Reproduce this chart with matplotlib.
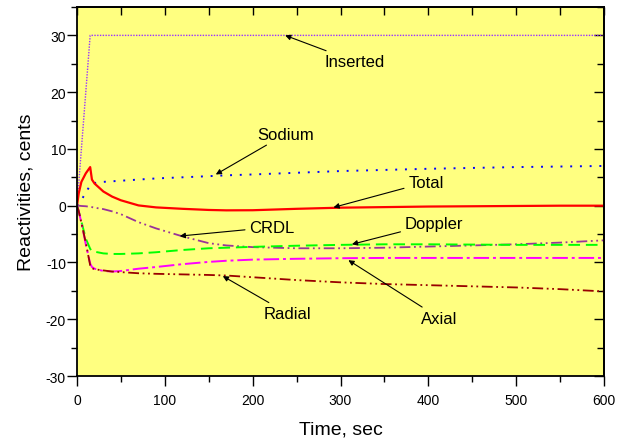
import matplotlib
matplotlib.use("Agg")
import matplotlib.pyplot as plt
from matplotlib.ticker import MultipleLocator

plt.rcParams['font.family'] = ['Liberation Sans', 'DejaVu Sans']
plt.rcParams['axes.unicode_minus'] = False

# time points, sec
t = [0, 2, 5, 10, 15, 17, 20, 30, 40, 50, 70, 90, 120, 150, 170, 200,
     250, 300, 350, 400, 450, 500, 550, 600]

total = [0, 2.2, 4.2, 5.7, 6.8, 4.6, 3.9, 2.5, 1.6, 0.95, 0.05, -0.3, -0.55,
         -0.75, -0.82, -0.8, -0.55, -0.35, -0.25, -0.15, -0.1, -0.05, 0.0, 0.0]
sodium = [0, 0.3, 1.0, 2.3, 3.6, 3.9, 4.0, 4.2, 4.3, 4.4, 4.6, 4.8, 5.0,
          5.2, 5.35, 5.5, 5.8, 6.1, 6.3, 6.5, 6.65, 6.8, 6.9, 7.0]
crdl = [0, 0, -0.05, -0.1, -0.2, -0.25, -0.35, -0.6, -1.0, -1.5, -2.9, -4.0,
        -5.4, -6.6, -7.0, -7.3, -7.5, -7.5, -7.4, -7.2, -7.0, -6.8, -6.5, -6.1]
doppler = [0, -1.0, -2.8, -5.8, -7.6, -8.0, -8.1, -8.4, -8.5, -8.5, -8.4,
           -8.2, -7.8, -7.5, -7.4, -7.25, -7.05, -6.9, -6.8, -6.8, -6.85,
           -6.9, -6.9, -6.9]
axial = [0, -1.0, -3.0, -6.8, -10.2, -10.8, -11.1, -11.5, -11.6, -11.5,
         -11.1, -10.8, -10.3, -9.9, -9.7, -9.5, -9.35, -9.25, -9.2, -9.2,
         -9.2, -9.2, -9.2, -9.2]
radial = [0, -1.0, -3.0, -6.5, -10.5, -11.0, -11.2, -11.4, -11.6, -11.7,
          -11.9, -12.0, -12.1, -12.2, -12.3, -12.6, -13.1, -13.5, -13.8,
          -14.0, -14.2, -14.4, -14.7, -15.1]

t_ins = [0, 15, 600]
inserted = [0, 30, 30]

fig = plt.figure(figsize=(6.23, 4.39), dpi=100)
ax = fig.add_axes([0.1236, 0.1412, 0.8459, 0.8406])
ax.set_facecolor('#ffff80')

ax.plot(t_ins, inserted, color='#9933ff', lw=1.0, ls=(0, (1, 1)))
ax.plot(t, sodium, color='#0000ff', lw=1.4, ls=(0, (1, 4)))
ax.plot(t, total, color='#ff0000', lw=1.6, ls='-')
ax.plot(t, crdl, color='#993399', lw=1.3, ls=(0, (6, 2, 1, 2, 1, 2)))
ax.plot(t, doppler, color='#00ff00', lw=1.4, ls=(0, (6, 3)))
ax.plot(t, axial, color='#ff00ff', lw=1.4, ls=(0, (8, 2, 1.5, 2)))
ax.plot(t, radial, color='#990000', lw=1.3, ls=(0, (6, 2, 1, 2, 1, 2)))

ax.set_xlim(0, 600)
ax.set_ylim(-30, 35)
ax.xaxis.set_major_locator(MultipleLocator(100))
ax.xaxis.set_minor_locator(MultipleLocator(50))
ax.set_yticks([-30, -20, -10, 0, 10, 20, 30])
ax.yaxis.set_minor_locator(MultipleLocator(5))

# left / bottom ticks point out, top / right point in
ax.tick_params(which='both', direction='out', labelsize=10, width=1)
ax.tick_params(which='major', length=7)
ax.tick_params(which='minor', length=4)
ax.tick_params(axis='x', pad=5)
ax.tick_params(axis='y', pad=1)

top = ax.secondary_xaxis('top')
top.xaxis.set_major_locator(MultipleLocator(50))
top.tick_params(direction='in', length=6, width=1, labeltop=False)
right = ax.secondary_yaxis('right')
right.yaxis.set_major_locator(MultipleLocator(10))
right.yaxis.set_minor_locator(MultipleLocator(5))
right.tick_params(which='both', direction='in', width=1, labelright=False)
right.tick_params(which='major', length=7)
right.tick_params(which='minor', length=5)

for s in ax.spines.values():
    s.set_linewidth(1.3)
top.spines['top'].set_linewidth(1.3)
right.spines['right'].set_linewidth(1.3)

ax.set_xlabel('Time, sec', fontsize=14, labelpad=10)
ax.set_ylabel('Reactivities, cents', fontsize=14, labelpad=8)

arrow = dict(arrowstyle='-|>', color='black', lw=0.8, mutation_scale=8,
             shrinkA=1, shrinkB=0)
notes = [
    ('Inserted', (237, 30), (282, 25.4)),
    ('Sodium', (158, 5.5), (205, 12.6)),
    ('Total', (292, -0.3), (377, 4.1)),
    ('Doppler', (313, -6.8), (373, -3.1)),
    ('CRDL', (117, -5.35), (196, -3.8)),
    ('Axial', (309, -9.6), (392, -19.8)),
    ('Radial', (166, -12.4), (213, -19.0)),
]
for label, head, txt in notes:
    ax.annotate(label, xy=head, xytext=txt, fontsize=12, va='center',
                ha='left', arrowprops=arrow)

fig.savefig('out.png', dpi=100)
